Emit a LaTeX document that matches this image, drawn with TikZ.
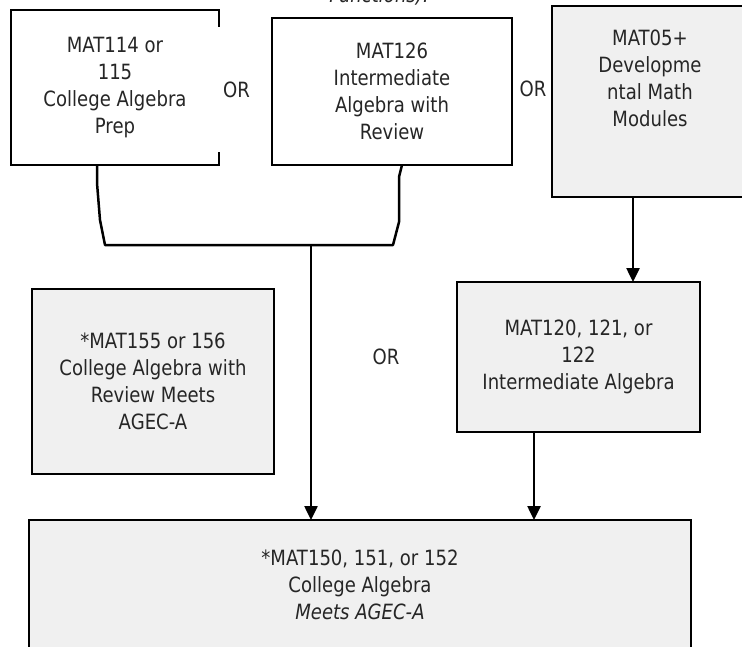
\documentclass[tikz,border=0pt]{standalone}
\usepackage{fontspec}
\setmainfont{DejaVu Sans}[FakeStretch=0.86]
\usepackage{tikz}
\usetikzlibrary{arrows.meta}
\definecolor{boxgrey}{HTML}{F0F0F0}
\definecolor{inkgrey}{HTML}{262626}

\begin{document}
\begin{tikzpicture}[x=1pt,y=-1pt,
    every node/.style={font=\fontsize{21}{27}\selectfont, text=inkgrey, align=center},
    course/.style={draw=black, line width=1.6pt, inner sep=0pt, outer sep=0pt, fill=white},
    greycourse/.style={course, fill=boxgrey},
    link/.style={draw=black, line width=2.5pt, line join=round},
    arr/.style={link, -{Triangle[width=13pt,length=14pt]}}]
    \useasboundingbox (0,0) rectangle (742,646);

    \node (0) [anchor=base, font=\fontsize{21}{27}\selectfont\itshape] at (379,2) {Functions).};

    \node (1) [course, minimum width=208, minimum height=155] at (115,87.5) {MAT114 or\\115\\College Algebra\\Prep};
    \node (2) [course, minimum width=240, minimum height=147] at (392,91.5) {MAT126\\Intermediate\\Algebra with\\Review};
    \node (3) [greycourse, minimum width=196, minimum height=191] at (650,101.5) {};
    \node (3t) at (650,78.5) {MAT05+\\Developme\\ntal Math\\Modules};
    \node (4) [greycourse, minimum width=242, minimum height=185] at (153,381.5) {*MAT155 or 156\\College Algebra with\\Review Meets\\AGEC-A};
    \node (5) [greycourse, minimum width=243, minimum height=150] at (578.5,357) {MAT120, 121, or\\122\\Intermediate Algebra};
    \node (6) [greycourse, minimum width=662, minimum height=130] at (360,585) {*MAT150, 151, or 152\\College Algebra\\\textit{Meets AGEC-A}};

    \node (7) [anchor=west, fill=white, minimum height=125, inner xsep=5pt, inner ysep=0pt] at (218,89.5) {OR};
    \node (8) at (533,89) {OR};
    \node (9) at (386,357) {OR};

    \coordinate (j) at (311,245);

    \draw[link] ([xshift=-18pt]1.south) -- ++(0,18) -- ++(3,37) -- (105,245) -- (j) -- (393,245) -- (399,222) -- (399,177) -- ([xshift=10pt]2.south);
    \draw[arr] (j) -- (j |- 6.north);
    \draw[arr] ([xshift=-17pt]3.south) -- ([xshift=-17pt]3.south |- 5.north);
    \draw[arr] ([xshift=-44.5pt]5.south) -- ([xshift=-44.5pt]5.south |- 6.north);
\end{tikzpicture}
\end{document}
